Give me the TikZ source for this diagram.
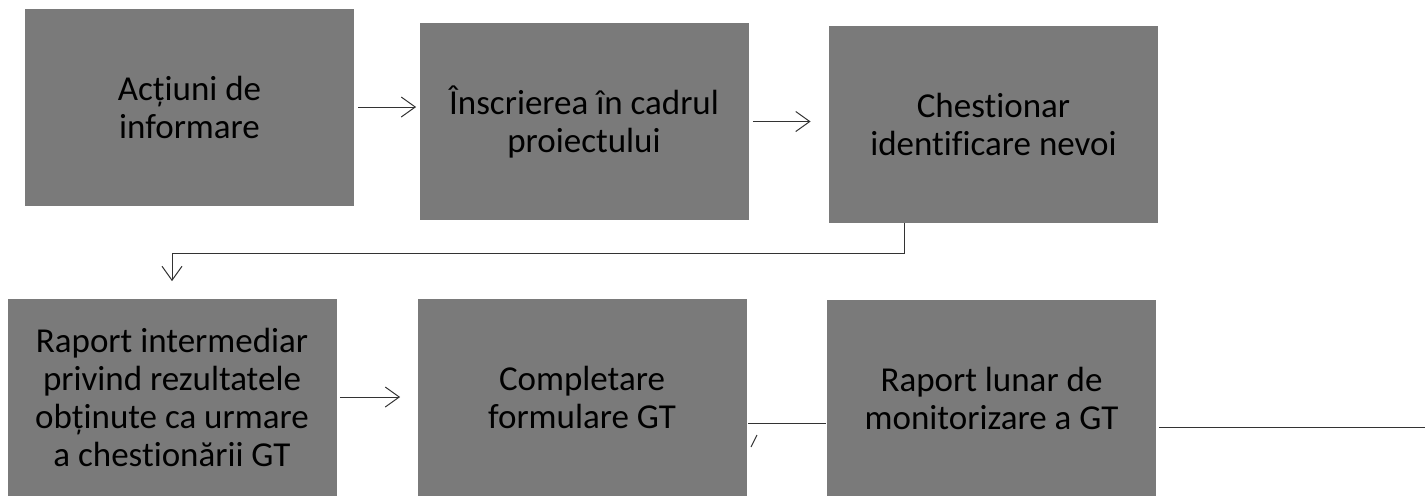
\documentclass[tikz,border=0pt]{standalone}
\usepackage{fontspec}
\setmainfont{Carlito}[Ligatures=NoCommon]
\usetikzlibrary{arrows.meta}
\definecolor{boxgray}{gray}{0.48}
\tikzset{
  stepbox/.style={fill=boxgray, minimum width=164.5pt, minimum height=98.5pt, inner sep=0pt, align=center, font=\fontsize{17.5}{19}\selectfont},
  flow/.style={draw=black!80, line width=0.5pt},
  barb/.style={-{Straight Barb[length=7pt, width=10pt]}}
}

\begin{document}
\begin{tikzpicture}[x=0.5pt, y=-0.5pt]
        \useasboundingbox (0, 0) rectangle (1426, 495);
        \clip (0, 0) rectangle (1426, 495);
        \node[stepbox] (info) at (189.5, 107) {Acțiuni de\\informare}; % first row
        \node[stepbox] (inscriere) at (584, 121.5) {Înscrierea în cadrul\\proiectului};
        \node[stepbox] (chestionar) at (993.5, 124) {Chestionar\\identificare nevoi};
        \node[stepbox] (raportint) at (172, 397) {Raport intermediar\\privind rezultatele\\obținute ca urmare\\a chestionării GT}; % second row
        \node[stepbox] (formular) at (582, 397.5) {Completare\\formulare GT};
        \node[stepbox] (raportlunar) at (991.5, 398.5) {Raport lunar de\\monitorizare a GT};
        \coordinate (margine) at (1425, 427); % line runs off the page
        \draw[flow, barb, shorten <=2pt, shorten >=1.5pt] (info.east) -- (info.east -| inscriere.west);
        \draw[flow, barb, shorten <=2pt, shorten >=9pt] (inscriere.east) -- (inscriere.east -| chestionar.west);
        \draw[flow, barb] ([shift={(-89.5, 0)}]chestionar.south) -- ++(0, 31) -| ([yshift=8.5pt]raportint.north); % back to second row
        \draw[flow, barb, shorten <=1.5pt, shorten >=8.5pt] (raportint.east) -- (raportint.east -| formular.west);
        \draw[flow] ([shift={(1.5, 25.5)}]formular.east) -- ([shift={(-1, 24.5)}]raportlunar.west); % no head
        \draw[flow] (757, 435) -- (751, 447); % stray tick
        \draw[flow] ([shift={(3, 28.5)}]raportlunar.east) -- (margine);
    \end{tikzpicture}
\end{document}
